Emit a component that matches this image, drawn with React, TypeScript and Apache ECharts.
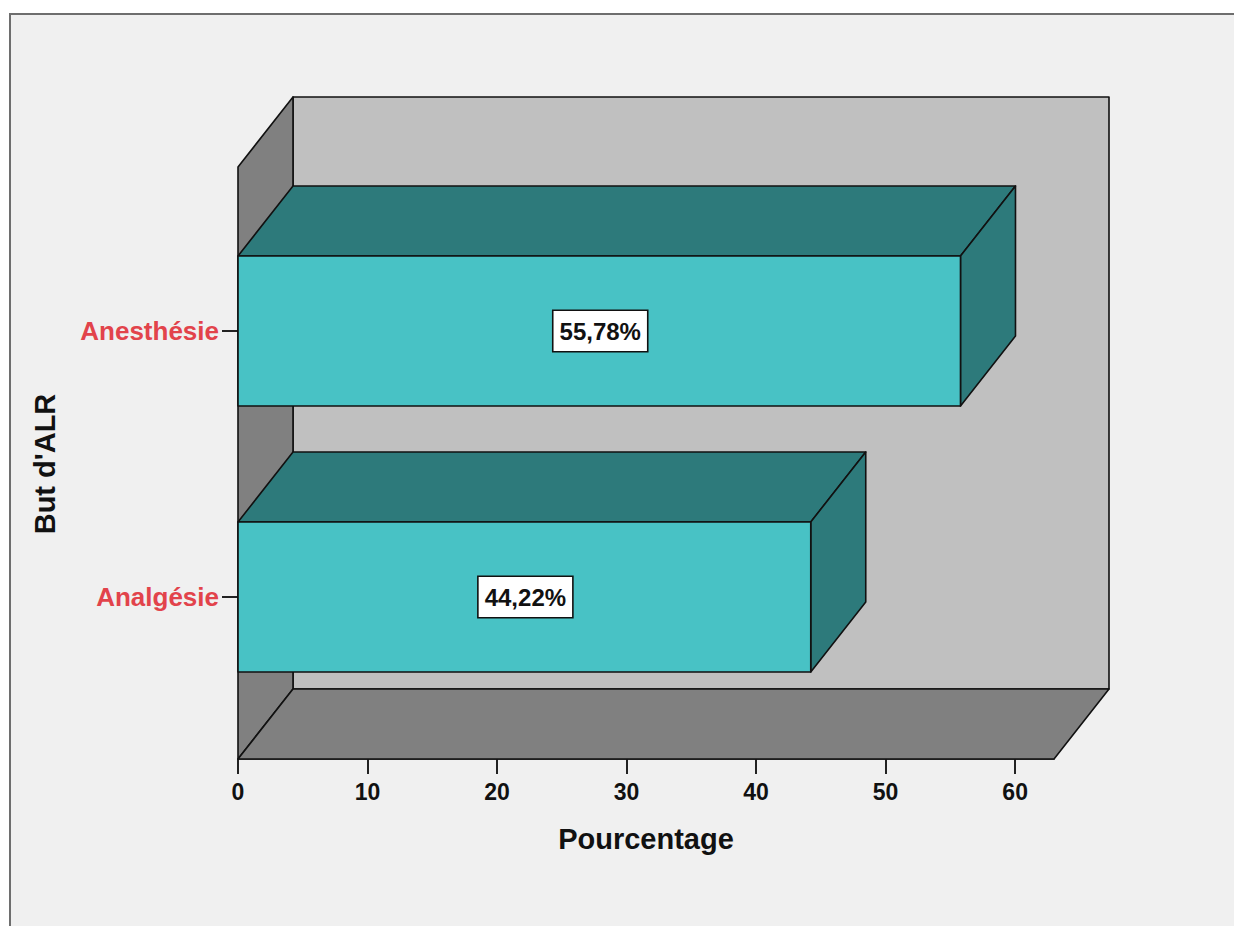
import React, { useEffect, useRef } from "react";
import * as echarts from "echarts";

// Chart data
const categories = ["Analgésie", "Anesthésie"];
const percentages = [44.22, 55.78];
const xTicks = [0, 10, 20, 30, 40, 50, 60];
const xMax = 63;
const xAxisTitle = "Pourcentage";
const yAxisTitle = "But d'ALR";

// Oblique projection of the depth axis (pixels) and bar thickness within a band
const DEPTH: [number, number] = [55, -70];
const BAR_RATIO = 150 / 266;

const FONT = "'Liberation Sans', Arial, Helvetica, sans-serif";
const EDGE = { stroke: "#111111", lineWidth: 1.6, lineJoin: "round" as const };

const FRONT = "#48c2c5";
const SHADE = "#2d7a7b";
const WALL_BACK = "#c0c0c0";
const WALL_SIDE = "#808080";

const fmtPct = (v: number) => v.toFixed(2).replace(".", ",") + "%";

export default function App() {
  const ref = useRef<HTMLDivElement>(null);

  useEffect(() => {
    const chart = echarts.init(ref.current!, null, { renderer: "svg" });
    const [dx, dy] = DEPTH;
    const back = (p: number[]) => [p[0] + dx, p[1] + dy];

    chart.setOption({
      animation: false,
      backgroundColor: "#ffffff",
      graphic: [
        {
          type: "rect",
          silent: true,
          z: -10,
          shape: { x: 10, y: 14, width: 1300, height: 1000 },
          style: { fill: "#f0f0f0" },
        },
        {
          type: "polyline",
          silent: true,
          z: -9,
          shape: {
            points: [
              [10, 1000],
              [10, 14],
              [1300, 14],
            ],
          },
          style: { stroke: "#6e6e6e", lineWidth: 2, fill: "none" },
        },
      ],
      grid: [
        { left: 238, right: 180, top: 167, bottom: 167 },
        { left: 238, right: 180, top: 198, bottom: 196 },
      ],
      xAxis: [
        {
          gridIndex: 0,
          type: "value",
          min: 0,
          max: xMax,
          splitLine: { show: false },
          axisLine: { show: true, lineStyle: { color: "#111", width: 1.6 } },
          axisTick: {
            show: true,
            customValues: xTicks,
            length: 15,
            lineStyle: { color: "#222", width: 2 },
          },
          axisLabel: {
            customValues: xTicks,
            color: "#111",
            fontWeight: "bold",
            fontSize: 23,
            fontFamily: FONT,
            margin: 21,
          },
          name: xAxisTitle,
          nameLocation: "middle",
          nameGap: 65,
          nameTextStyle: {
            color: "#111",
            fontWeight: "bold",
            fontSize: 29,
            fontFamily: FONT,
          },
        },
        { gridIndex: 1, type: "value", min: 0, max: xMax, show: false },
      ],
      yAxis: [
        { gridIndex: 0, type: "value", min: 0, max: 1, show: false },
        {
          gridIndex: 1,
          type: "category",
          data: categories,
          axisLine: { show: false },
          splitLine: { show: false },
          axisTick: {
            show: true,
            alignWithLabel: true,
            length: 16,
            lineStyle: { color: "#222", width: 2 },
          },
          axisLabel: {
            color: "#e2434b",
            fontWeight: "bold",
            fontSize: 26,
            fontFamily: FONT,
            margin: 19,
          },
          name: yAxisTitle,
          nameLocation: "middle",
          nameRotate: 90,
          nameGap: 179,
          nameTextStyle: {
            color: "#111",
            fontWeight: "bold",
            fontSize: 29,
            fontFamily: FONT,
          },
        },
      ],
      series: [
        {
          // back wall, left wall and floor of the 3D frame
          type: "custom",
          xAxisIndex: 0,
          yAxisIndex: 0,
          clip: false,
          silent: true,
          data: [[0, 0]],
          renderItem: (_params: any, api: any) => {
            const f00 = api.coord([0, 0]);
            const f01 = api.coord([0, 1]);
            const f10 = api.coord([xMax, 0]);
            const f11 = api.coord([xMax, 1]);
            const b00 = back(f00);
            const b01 = back(f01);
            const b10 = back(f10);
            const b11 = back(f11);
            return {
              type: "group",
              children: [
                {
                  type: "polygon",
                  shape: { points: [b00, b10, b11, b01] },
                  style: { fill: WALL_BACK, ...EDGE },
                },
                {
                  type: "polygon",
                  shape: { points: [f01, b01, b00, f00] },
                  style: { fill: WALL_SIDE, ...EDGE },
                },
                {
                  type: "polygon",
                  shape: { points: [f00, b00, b10, f10] },
                  style: { fill: WALL_SIDE, ...EDGE },
                },
              ],
            };
          },
        },
        {
          // 3D bars with value labels
          type: "custom",
          xAxisIndex: 1,
          yAxisIndex: 1,
          clip: false,
          encode: { x: 0, y: 1 },
          data: percentages.map((v, i) => [v, i]),
          renderItem: (_params: any, api: any) => {
            const v = api.value(0);
            const ci = api.value(1);
            const start = api.coord([0, ci]);
            const end = api.coord([v, ci]);
            const h = api.size([0, 1])[1] * BAR_RATIO;
            const x0 = start[0];
            const x1 = end[0];
            const yT = start[1] - h / 2;
            const yB = start[1] + h / 2;
            return {
              type: "group",
              children: [
                {
                  type: "polygon",
                  shape: {
                    points: [
                      [x0, yT],
                      [x0 + dx, yT + dy],
                      [x1 + dx, yT + dy],
                      [x1, yT],
                    ],
                  },
                  style: { fill: SHADE, ...EDGE },
                },
                {
                  type: "polygon",
                  shape: {
                    points: [
                      [x1, yT],
                      [x1 + dx, yT + dy],
                      [x1 + dx, yB + dy],
                      [x1, yB],
                    ],
                  },
                  style: { fill: SHADE, ...EDGE },
                },
                {
                  type: "rect",
                  shape: { x: x0, y: yT, width: x1 - x0, height: h },
                  style: { fill: FRONT, ...EDGE },
                },
                {
                  type: "text",
                  x: (x0 + x1) / 2 + 1,
                  y: start[1],
                  style: {
                    text: fmtPct(v),
                    align: "center",
                    verticalAlign: "middle",
                    fill: "#111",
                    fontSize: 24,
                    fontWeight: "bold",
                    fontFamily: FONT,
                    backgroundColor: "#ffffff",
                    borderColor: "#111",
                    borderWidth: 1.6,
                    padding: [8, 6, 8, 6],
                  },
                },
              ],
            };
          },
        },
      ],
    });

    return () => chart.dispose();
  }, []);

  return (
    <div
      ref={ref}
      style={{ position: "fixed", left: 0, top: 0, width: 1234, height: 926 }}
    />
  );
}
